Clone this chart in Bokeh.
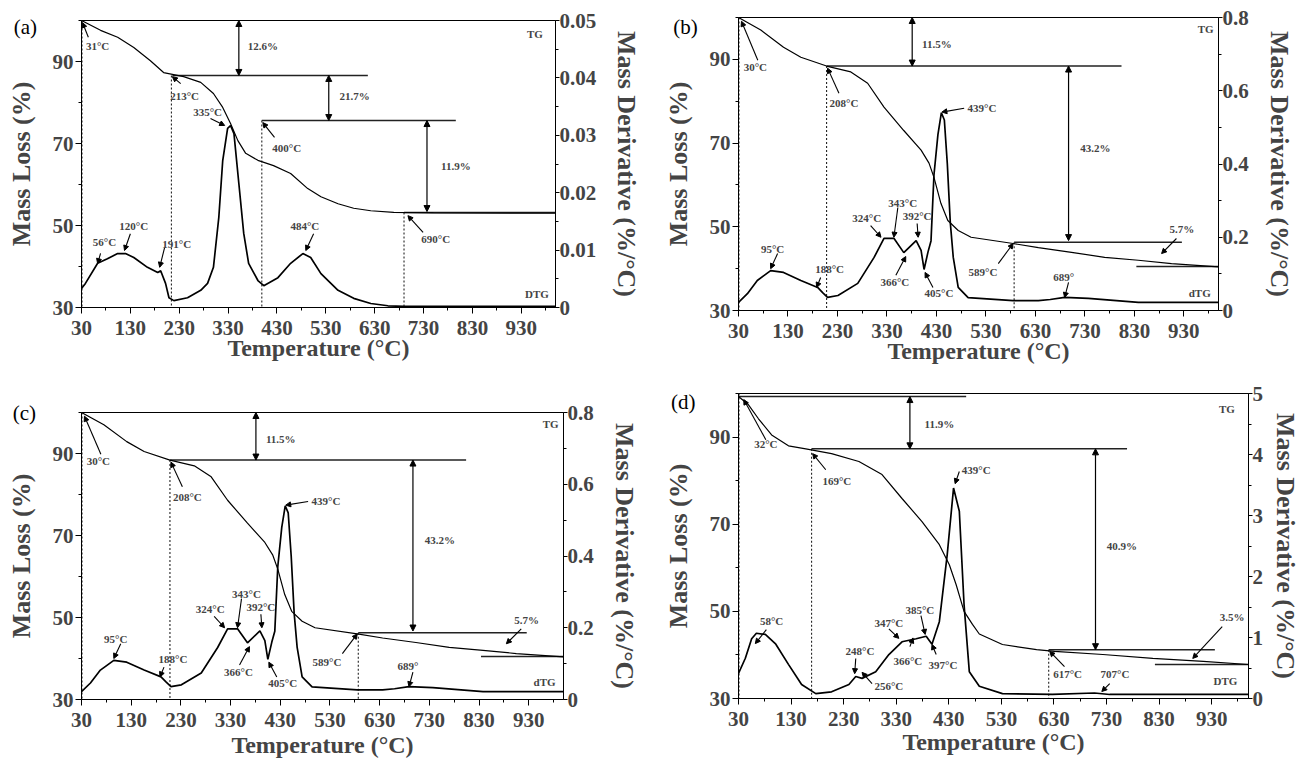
from bokeh.plotting import figure
from bokeh.models import Range1d, LinearAxis, FixedTicker, CustomJSTickFormatter, Arrow, NormalHead, Label
from bokeh.core.properties import value
from bokeh.layouts import row, column
from bokeh.embed import file_html
from bokeh.resources import INLINE

FONT = "Liberation Serif"

# ---------------- data ----------------
X_TICKS = [30, 130, 230, 330, 430, 530, 630, 730, 830, 930]
X_MINOR = [80, 180, 280, 380, 480, 580, 680, 780, 880, 980]
TG_TICKS = [30, 50, 70, 90]
TG_MINOR = [40, 60, 80, 100]

# (a)
a_tg_temp = [30, 69, 104, 137, 171, 198, 239, 274, 300, 319, 335, 350, 366, 391, 423, 458, 493, 520, 555, 587, 622, 669, 750, 1000]
a_tg_mass = [100, 97.6, 95.9, 93.4, 90.2, 87.3, 86.3, 84.9, 82.2, 78.8, 74.9, 70.7, 67.6, 65.9, 64.6, 62.7, 59.0, 57.0, 55.3, 54.2, 53.6, 53.2, 53.1, 53.0]
a_dtg_temp = [30, 38, 63, 83, 104, 120, 137, 165, 186, 192, 202, 209, 219, 247, 274, 288, 300, 311, 319, 329,
              335, 342, 352, 362, 372, 391, 403, 432, 458, 483, 499, 520, 555, 587, 622, 657, 690, 800, 1000]
a_dtg_val = [0.0033, 0.0042, 0.0077, 0.0085, 0.0094, 0.0094, 0.0087, 0.0070, 0.0061, 0.0064,
             0.0042, 0.0017, 0.0012, 0.0017, 0.0030, 0.0042, 0.0070, 0.0157, 0.0256, 0.0312,
             0.0317, 0.0303, 0.0216, 0.0129, 0.0077, 0.0047, 0.0038, 0.0052, 0.0077, 0.0094,
             0.0087, 0.0059, 0.0030, 0.0016, 0.0007, 0.0003, 0.0002, 0.0002, 0.0002]
a_d_ticks = [0, 0.01, 0.02, 0.03, 0.04, 0.05]
a_d_minor = [0.005, 0.015, 0.025, 0.035, 0.045]

# (b) and (c) (same sample)
b_tg_temp = [30, 75, 121, 156, 208, 257, 291, 324, 364, 399, 415, 425, 439, 453, 474, 500, 585, 636, 703, 770, 838, 905, 1000]
b_tg_mass = [100, 97.0, 92.9, 90.5, 88.4, 87.0, 84.3, 78.6, 73.0, 68.3, 65.2, 61.8, 55.6, 51.5, 49.1, 47.5, 46.0, 45.0, 43.9, 42.7, 42.0, 41.2, 40.4]
b_dtg_temp = [30, 48, 68, 95, 121, 156, 190, 200, 210, 231, 271, 304, 324, 344, 364, 389, 399, 405, 413, 419,
              425, 433, 440, 446, 452, 458, 464, 474, 494, 585, 636, 660, 689, 737, 838, 1000]
b_dtg_val = [0.022, 0.046, 0.082, 0.109, 0.104, 0.082, 0.063, 0.049, 0.036, 0.041,
             0.074, 0.145, 0.197, 0.197, 0.158, 0.191, 0.164, 0.112, 0.160, 0.190,
             0.370, 0.480, 0.540, 0.520, 0.400, 0.240, 0.145, 0.063, 0.035, 0.027,
             0.027, 0.030, 0.036, 0.033, 0.022, 0.022]
b_d_ticks = [0, 0.2, 0.4, 0.6, 0.8]
b_d_minor = [0.1, 0.3, 0.5, 0.7]

c_tg_temp, c_tg_mass = b_tg_temp, b_tg_mass
c_dtg_temp, c_dtg_val = b_dtg_temp, b_dtg_val

# (d)
d_tg_temp = [30, 49, 68, 93, 125, 158, 207, 259, 303, 341, 379, 412, 431, 444, 459, 475, 488, 532, 597, 631, 723, 818, 914, 1000]
d_tg_mass = [99.3, 97.4, 94.2, 90.5, 88.0, 87.3, 86.2, 84.4, 81.4, 75.9, 70.6, 65.3, 60.7, 56.1, 50.0, 47.0, 44.8, 42.4, 41.2, 40.8, 40.1, 39.2, 38.5, 37.8]
d_dtg_temp = [30, 43, 55, 64, 81, 101, 125, 150, 177, 207, 240, 253, 265, 291, 316, 341, 368, 387, 398, 412,
              427, 439, 450, 459, 469, 488, 532, 627, 707, 736, 851, 1000]
d_dtg_val = [0.41, 0.66, 0.98, 1.07, 1.05, 0.89, 0.56, 0.23, 0.08, 0.11,
             0.23, 0.36, 0.33, 0.44, 0.72, 0.93, 0.98, 1.02, 0.89, 1.26,
             2.36, 3.45, 3.07, 1.54, 0.44, 0.20, 0.08, 0.066, 0.09, 0.066, 0.066, 0.066]
d_d_ticks = [0, 1, 2, 3, 4, 5]
d_d_minor = [0.5, 1.5, 2.5, 3.5, 4.5]

# ---------------- annotations (in TG-axis coordinates) ----------------
ann_a = dict(
    seg=[(216, 86.6, 616, 86.6), (399, 75.6, 796, 75.6), (690, 53.2, 1000, 53.2)],
    dash=[(31, 100, 31, 30), (214, 86.6, 214, 30), (399, 75.6, 399, 30), (690, 53.2, 690, 30)],
    dbl=[(352, 100, 86.6), (536, 86.6, 75.6), (737, 75.6, 53.4)],
    arr=[(44, 95.9, 32, 99.5), (233, 84.6, 216, 86.3), (294, 76.1, 323, 74.4), (425, 71.5, 401, 75.1),
         (729, 48.3, 698, 52.4), (69, 43.2, 63, 40.7), (130, 48, 118, 43.9), (200, 44.6, 190, 39.8),
         (505, 48, 489, 43.9)],
    txt=[("12.6%", 401, 93.7), ("21.7%", 589, 81.7), ("11.9%", 796, 64.4), ("31°C", 63, 93.7),
         ("213°C", 241, 81.5), ("335°C", 288, 77.6), ("400°C", 450, 68.8), ("56°C", 77, 45.9),
         ("120°C", 137, 50.0), ("191°C", 225, 45.6), ("484°C", 487, 50.0), ("690°C", 755, 46.6)],
    tg=("TG", 958, 96.8), dtg=("DTG", 962, 33.2),
)
ann_b = dict(
    seg=[(208, 88.4, 804, 88.4), (587, 46.3, 926, 46.3), (834, 40.5, 1000, 40.5)],
    dash=[(31, 100, 31, 30), (208, 88.4, 208, 30), (587, 46.3, 587, 30)],
    dbl=[(381, 100, 88.4), (697, 88.4, 46.7)],
    arr=[(69, 89.8, 36, 99.1), (233, 81.9, 210, 87.9), (109, 43.6, 95, 40), (196, 37.9, 188, 35.5),
         (297, 50.3, 318, 47.5), (352, 54.6, 344, 47.5), (391, 50.8, 393, 47.5), (348, 38.4, 368, 42.9),
         (423, 35.5, 407, 39.1), (486, 78.3, 441, 77.4), (555, 41.2, 585, 46.0), (915, 47.2, 885, 43.6),
         (697, 36.7, 689, 33.1)],
    txt=[("11.5%", 431, 93.6), ("30°C", 64, 88.1), ("208°C", 243, 79.5), ("439°C", 522, 78.3),
         ("43.2%", 751, 68.8), ("5.7%", 926, 49.4), ("589°C", 524, 39.1), ("689°", 687, 38.1),
         ("95°C", 99, 44.8), ("188°C", 214, 39.8), ("324°C", 289, 52.0), ("343°C", 362, 55.8),
         ("392°C", 391, 52.5), ("366°C", 346, 36.7), ("405°C", 435, 34.1)],
    tg=("TG", 974, 97.2), dtg=("dTG", 962, 34.3),
)
ann_d = dict(
    seg=[(30, 99.3, 463, 99.3), (169, 87.3, 769, 87.3), (620, 41.2, 936, 41.2), (822, 37.8, 1000, 37.8)],
    dash=[(31, 100, 31, 30), (169, 87.3, 169, 30), (620, 41.2, 620, 30)],
    dbl=[(356, 99.3, 87.3), (709, 87.3, 41.2)],
    arr=[(82, 89.4, 40, 98.6), (196, 82.5, 171, 86.2), (650, 37.3, 622, 40.8), (736, 33.4, 721, 31.6),
         (950, 46.5, 894, 39.2), (83, 45.8, 62, 42.6), (253, 39.2, 251, 35.7), (284, 33.4, 265, 36.0),
         (316, 46.0, 335, 43.8), (377, 49.0, 385, 44.7), (356, 41.9, 362, 43.9), (406, 40.1, 398, 42.4),
         (450, 82.1, 442, 79.3)],
    txt=[("11.9%", 412, 93.0), ("32°C", 82, 88.5), ("169°C", 217, 80.0), ("40.9%", 759, 65.1),
         ("617°C", 656, 35.7), ("707°C", 746, 35.7), ("3.5%", 969, 48.6), ("58°C", 93, 47.7),
         ("248°C", 261, 41.0), ("256°C", 316, 32.8), ("347°C", 316, 47.4), ("385°C", 375, 50.2),
         ("366°C", 352, 38.7), ("397°C", 419, 37.8), ("439°C", 482, 82.5)],
    tg=("TG", 959, 96.5), dtg=("DTG", 956, 34.1),
)


def style_axis(ax, label_standoff, tick_standoff, tick_out, title_size):
    ax.major_label_text_font = FONT
    ax.major_label_text_font_style = "bold"
    ax.major_label_text_font_size = "21px"
    ax.axis_label_text_font = FONT
    ax.axis_label_text_font_style = "bold"
    ax.axis_label_text_font_size = title_size
    ax.axis_label_standoff = label_standoff
    ax.major_label_standoff = tick_standoff
    ax.major_tick_in = 0
    ax.major_tick_out = tick_out
    ax.minor_tick_in = 0
    ax.minor_tick_out = 3
    ax.axis_line_color = "black"
    ax.major_tick_line_color = "black"
    ax.minor_tick_line_color = "black"


def build(tag, tag_xy, tg_t, tg_m, dtg_t, dtg_v, d_max, d_ticks, d_minor, d_digits, geom, stand, ann):
    fw, fh, bl, br, bt, bb = geom
    xs, ls, rs = stand
    p = figure(frame_width=fw, frame_height=fh, min_border_left=bl, min_border_right=br,
               min_border_top=bt, min_border_bottom=bb,
               x_range=Range1d(30, 1000), y_range=Range1d(30, 100),
               output_backend="svg", toolbar_location=None,
               x_axis_label="Temperature (°C)", y_axis_label="Mass Loss (%)")
    p.frame_align = False
    p.extra_y_ranges = {"dtg": Range1d(0, d_max)}
    rax = LinearAxis(y_range_name="dtg", axis_label="Mass Derivative (%/°C)",
                     ticker=FixedTicker(ticks=d_ticks, minor_ticks=d_minor),
                     formatter=CustomJSTickFormatter(code="return tick == 0 ? '0' : tick.toFixed(%d);" % d_digits))
    p.add_layout(rax, "right")
    p.xaxis.ticker = FixedTicker(ticks=X_TICKS, minor_ticks=X_MINOR)
    p.yaxis[0].ticker = FixedTicker(ticks=TG_TICKS, minor_ticks=TG_MINOR)
    style_axis(p.xaxis[0], xs, 7, 6, "24px")
    style_axis(p.yaxis[0], ls, 2, 6, "26px")
    style_axis(rax, rs, 0, 4, "26px")
    p.grid.visible = False
    p.outline_line_color = "black"
    p.outline_line_width = 1
    p.background_fill_color = "white"
    p.border_fill_color = "white"

    # annotation lines
    p.segment(x0=[s[0] for s in ann["seg"]], y0=[s[1] for s in ann["seg"]],
              x1=[s[2] for s in ann["seg"]], y1=[s[3] for s in ann["seg"]],
              line_color="#222222", line_width=1.5)
    p.segment(x0=[s[0] for s in ann["dash"]], y0=[s[1] for s in ann["dash"]],
              x1=[s[2] for s in ann["dash"]], y1=[s[3] for s in ann["dash"]],
              line_color="#222222", line_width=1.1, line_dash="2 2")

    # curves
    p.line(tg_t, tg_m, line_color="black", line_width=1.2)
    p.line(dtg_t, dtg_v, y_range_name="dtg", line_color="black", line_width=1.7)

    for x, y0, y1 in ann["dbl"]:
        p.add_layout(Arrow(start=NormalHead(size=6, fill_color="black", line_color="black"),
                           end=NormalHead(size=6, fill_color="black", line_color="black"),
                           x_start=x, y_start=y0, x_end=x, y_end=y1,
                           line_color="black", line_width=1.2))
    for x0, y0, x1, y1 in ann["arr"]:
        p.add_layout(Arrow(end=NormalHead(size=5, fill_color="black", line_color="black"),
                           x_start=x0, y_start=y0, x_end=x1, y_end=y1,
                           line_color="black", line_width=1.1))
    for t, x, y in ann["txt"]:
        p.add_layout(Label(x=x, y=y, text=t, text_font=FONT, text_font_style="bold",
                           text_font_size="11px", text_align="center", text_baseline="middle"))
    for t, x, y in (ann["tg"], ann["dtg"]):
        p.add_layout(Label(x=x, y=y, text=t, text_font=FONT, text_font_style="bold",
                           text_font_size="11px", text_align="center", text_baseline="middle"))
    # panel tag, drawn at overlay level so that it may sit left of the frame
    p.text(x=[tag_xy[0]], y=[tag_xy[1]], text=[tag], level="overlay",
           text_font=value(FONT), text_font_size="21px", text_align="center",
           text_baseline="middle", text_color="black")
    return p


pa = build("(a)", (-85, 98.5), a_tg_temp, a_tg_mass, a_dtg_temp, a_dtg_val, 0.05, a_d_ticks, a_d_minor, 2,
           (474, 287, 81, 95, 20, 58), (-3, 14, 13), ann_a)
pb = build("(b)", (-77, 97.7), b_tg_temp, b_tg_mass, b_dtg_temp, b_dtg_val, 0.8, b_d_ticks, b_d_minor, 1,
           (480, 293, 88, 82, 17, 55), (-3, 14, 13), ann_b)
pc = build("(c)", (-85, 99.8), c_tg_temp, c_tg_mass, c_dtg_temp, c_dtg_val, 0.8, b_d_ticks, b_d_minor, 1,
           (482, 287, 81, 87, 46, 75), (2, 14, 13), ann_b)
pd = build("(d)", (-75, 98.1), d_tg_temp, d_tg_mass, d_dtg_temp, d_dtg_val, 5, d_d_ticks, d_d_minor, 0,
           (510, 305, 88, 52, 27, 76), (0, 14, 5), ann_d)

layout = column(row(pa, pb), row(pc, pd))
open("out.html", "w").write(file_html(layout, INLINE, title="TG/DTG"))
